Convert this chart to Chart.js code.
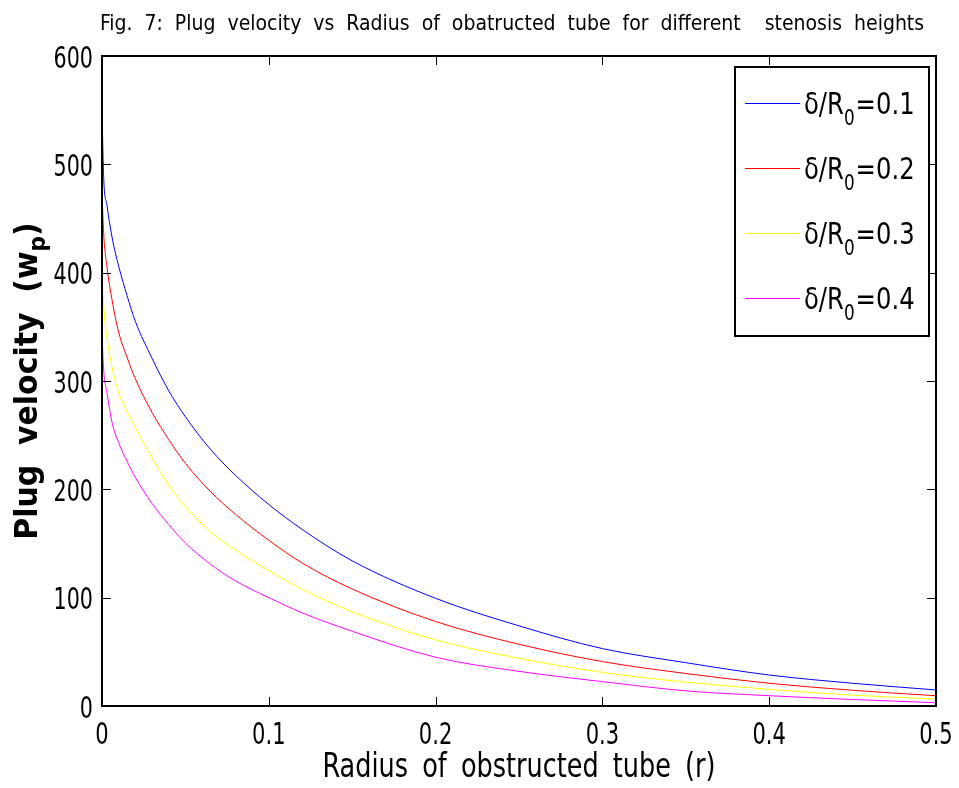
<!DOCTYPE html>
<html>
<head>
<meta charset="utf-8">
<title>Plug velocity vs radius</title>
<script src="https://cdn.jsdelivr.net/npm/chart.js@4.4.0/dist/chart.umd.min.js"></script>
<style>
    html, body { margin: 0; padding: 0; background: #fff; }
    #plugChart { display: block; }
</style>
</head>
<body>
<canvas id="plugChart" width="959" height="788"></canvas>
<script>
// --- Datos: radio del tubo obstruido (r) y velocidad de tapón w_p ---
const radius = [0, 0.001, 0.003, 0.006, 0.01, 0.015, 0.02, 0.03, 0.04, 0.05, 0.065, 0.08, 0.1, 0.12, 0.15, 0.2, 0.25, 0.3, 0.35, 0.4, 0.45, 0.5];

const wpDelta01 = [549, 488, 462, 433, 406, 379, 355, 321, 291, 267, 237, 213, 186, 163, 134, 99.4, 74, 53, 40, 28.6, 21, 14.8];
const wpDelta02 = [475, 436, 405, 375, 345, 322, 302, 271, 246, 224, 198, 177, 153, 132, 108, 78, 57, 41, 30, 21, 14.5, 9.5];
const wpDelta03 = [405, 370, 340, 313, 289, 272, 257, 229, 204, 184, 161, 144, 125, 108, 87, 61, 44, 31, 22, 15.4, 10, 6.5];
const wpDelta04 = [343, 310, 289, 262, 243, 226, 211, 187, 167.5, 150.5, 131, 115.5, 100, 86, 69, 45, 32, 22.5, 14, 9.5, 6, 3];

const seriesLabels = ['0.1', '0.2', '0.3', '0.4'];
const seriesColors = ['#0000ff', '#ff0000', '#ffff00', '#ff00ff'];

const xTicks = [0, 0.1, 0.2, 0.3, 0.4, 0.5];
const yTicks = [0, 100, 200, 300, 400, 500, 600];

const FONT = "'DejaVu Sans Condensed', 'DejaVu Sans', sans-serif";
Chart.defaults.font.family = FONT;
Chart.defaults.color = '#000';

function toPoints(values) {
    return values.map((v, i) => ({ x: radius[i], y: v }));
}

const allSeries = [wpDelta01, wpDelta02, wpDelta03, wpDelta04];

// texto comprimido horizontalmente (la fuente original es estrecha)
function drawText(ctx, text, x, y, size, sx, align, extra) {
    extra = extra || {};
    ctx.save();
    ctx.font = (extra.bold ? 'bold ' : '') + size + 'px ' + FONT;
    if (extra.wordSpacing) ctx.wordSpacing = extra.wordSpacing;
    ctx.translate(x, y);
    ctx.scale(sx, 1);
    ctx.textAlign = align;
    ctx.textBaseline = 'alphabetic';
    ctx.fillStyle = '#000';
    ctx.fillText(text, 0, 0);
    const w = ctx.measureText(text).width * sx;
    ctx.restore();
    return w;
}

// --- Título, ejes con subíndices y marco estilo MATLAB ---
const frameAndText = {
    id: 'frameAndText',
    afterDatasetsDraw(chart) {
        const ctx = chart.ctx;
        const area = chart.chartArea;
        const xs = chart.scales.x;
        const ys = chart.scales.y;
        const tick = 9;

        ctx.save();
        ctx.strokeStyle = '#000';
        ctx.lineWidth = 1;
        ctx.beginPath();
        xTicks.forEach(v => {
            const px = Math.round(xs.getPixelForValue(v)) + 0.5;
            ctx.moveTo(px, area.bottom); ctx.lineTo(px, area.bottom - tick);
            ctx.moveTo(px, area.top); ctx.lineTo(px, area.top + tick);
        });
        yTicks.forEach(v => {
            const py = Math.round(ys.getPixelForValue(v)) + 0.5;
            ctx.moveTo(area.left, py); ctx.lineTo(area.left + tick, py);
            ctx.moveTo(area.right, py); ctx.lineTo(area.right - tick, py);
        });
        ctx.stroke();

        ctx.lineWidth = 2;
        ctx.strokeRect(area.left, area.top, area.right - area.left, area.bottom - area.top);

        // etiquetas de los ejes
        xTicks.forEach(v => {
            drawText(ctx, v === 0 ? '0' : v.toFixed(1), xs.getPixelForValue(v), area.bottom + 38, 30, 0.78, 'center');
        });
        yTicks.forEach(v => {
            drawText(ctx, String(v), area.left - 9, ys.getPixelForValue(v) + 11.5, 31, 0.74, 'right');
        });

        // leyenda
        const boxR = area.right - 7, boxT = area.top + 11;
        const boxL = boxR - 194, boxB = boxT + 269;
        ctx.fillStyle = '#fff';
        ctx.fillRect(boxL, boxT, boxR - boxL, boxB - boxT);
        ctx.strokeRect(boxL, boxT, boxR - boxL, boxB - boxT);
        seriesLabels.forEach((lab, i) => {
            const y = boxT + 36 + i * 65;
            ctx.strokeStyle = seriesColors[i];
            ctx.lineWidth = 1;
            ctx.beginPath();
            ctx.moveTo(boxL + 10, y + 0.5);
            ctx.lineTo(boxL + 65, y + 0.5);
            ctx.stroke();
            let x = boxL + 69;
            x += drawText(ctx, 'δ/R', x, y + 11, 30, 0.9, 'left');
            x += drawText(ctx, '0', x, y + 22, 22, 0.85, 'left') + 1;
            drawText(ctx, '=' + lab, x, y + 11, 30, 0.9, 'left');
        });

        // título
        drawText(ctx, 'Fig. 7: Plug velocity vs Radius of obatructed tube for different  stenosis heights',
            512, 30, 21, 1, 'center', { wordSpacing: '6px' });

        // título del eje x
        drawText(ctx, 'Radius of obstructed tube (r)', (area.left + area.right) / 2, 777, 33, 0.86, 'center',
            { wordSpacing: '7px' });

        // título del eje y, con subíndice p
        ctx.translate(37, (area.top + area.bottom) / 2);
        ctx.rotate(-Math.PI / 2);
        const main = 'Plug velocity (w';
        const opts = { bold: true, wordSpacing: '9px' };
        ctx.save();
        ctx.globalAlpha = 0;
        const wMain = drawText(ctx, main, 0, 0, 32, 1.04, 'left', opts);
        const wSub = drawText(ctx, 'p', 0, 0, 23, 1.04, 'left', opts);
        const wEnd = drawText(ctx, ')', 0, 0, 32, 1.04, 'left', opts);
        ctx.restore();
        let tx = -(wMain + wSub + wEnd) / 2;
        tx += drawText(ctx, main, tx, 0, 32, 1.04, 'left', opts);
        tx += drawText(ctx, 'p', tx, 8, 23, 1.04, 'left', opts);
        drawText(ctx, ')', tx, 0, 32, 1.04, 'left', opts);
        ctx.restore();
    }
};

new Chart(document.getElementById('plugChart'), {
    type: 'line',
    data: {
        datasets: allSeries.map((values, i) => ({
            label: 'δ/R0=' + seriesLabels[i],
            data: toPoints(values),
            borderColor: seriesColors[i],
            backgroundColor: seriesColors[i],
            borderWidth: 1,
            pointRadius: 0,
            fill: false,
            cubicInterpolationMode: 'monotone'
        }))
    },
    options: {
        responsive: false,
        animation: false,
        layout: { padding: { top: 56, right: 23, left: 0, bottom: 0 } },
        plugins: {
            legend: { display: false },
            title: { display: false },
            tooltip: { enabled: false }
        },
        scales: {
            x: {
                type: 'linear',
                min: 0,
                max: 0.5,
                afterFit: s => { s.height = 82; s.paddingLeft = 0; s.paddingRight = 0; },
                grid: { display: false, drawTicks: false },
                border: { display: false },
                ticks: { display: false }
            },
            y: {
                min: 0,
                max: 600,
                afterFit: s => { s.width = 102; s.paddingTop = 0; s.paddingBottom = 0; },
                grid: { display: false, drawTicks: false },
                border: { display: false },
                ticks: { display: false }
            }
        }
    },
    plugins: [frameAndText]
});
</script>
</body>
</html>
